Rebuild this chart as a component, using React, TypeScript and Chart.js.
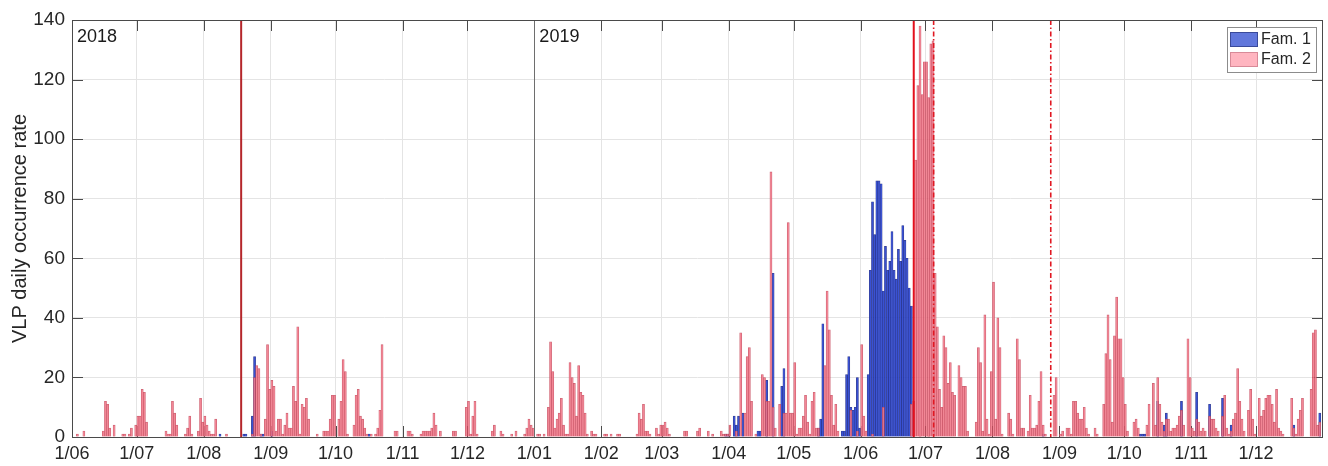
import { useEffect, useRef } from 'react';
import { Chart, registerables } from 'chart.js';

Chart.register(...registerables);

// ---- Daily VLP counts, one array per calendar month (index 0 = 1st of the month) ----

// Family 2
const fam2Jun2018 = [0, 0, 1, 0, 0, 2, 0, 0, 0, 0, 0, 0, 0, 0, 2, 12, 11, 3, 0, 4, 0, 0, 0, 1, 1, 0, 1, 3, 0, 4];
const fam2Jul2018 = [7, 7, 16, 15, 5, 0, 0, 0, 0, 0, 0, 0, 0, 2, 1, 1, 12, 8, 4, 0, 0, 0, 1, 3, 7, 1, 0, 0, 2, 13, 5];
const fam2Aug2018 = [7, 4, 2, 1, 1, 6, 0, 0, 0, 0, 1, 0, 0, 0, 0, 0, 0, 0, 0, 0, 0, 0, 1, 20, 24, 23, 1, 0, 6, 31, 16];
const fam2Sep2018 = [19, 17, 2, 6, 6, 1, 4, 8, 3, 3, 17, 12, 37, 1, 11, 10, 13, 6, 0, 0, 0, 1, 0, 0, 2, 2, 2, 6, 14, 14];
const fam2Oct2018 = [0, 6, 12, 26, 22, 1, 0, 0, 4, 14, 16, 7, 6, 3, 1, 0, 1, 0, 1, 3, 9, 31, 0, 0, 0, 0, 0, 2, 2, 0, 0];
const fam2Nov2018 = [0, 0, 2, 2, 1, 0, 0, 0, 1, 2, 2, 2, 2, 3, 8, 4, 0, 2, 0, 0, 0, 0, 0, 2, 2, 0, 0, 0, 0, 10];
const fam2Dec2018 = [12, 1, 7, 12, 1, 0, 0, 0, 0, 0, 0, 2, 4, 0, 0, 2, 1, 0, 0, 0, 1, 0, 2, 0, 0, 0, 1, 3, 6, 4, 3];
const fam2Jan2019 = [0, 1, 1, 0, 1, 0, 10, 32, 22, 3, 6, 8, 13, 4, 1, 1, 25, 20, 18, 7, 24, 15, 14, 8, 1, 0, 2, 1, 1, 0, 0];
const fam2Feb2019 = [0, 1, 1, 0, 1, 0, 0, 1, 1, 0, 0, 0, 0, 0, 0, 0, 1, 8, 6, 11, 2, 2, 1, 0, 0, 3, 1, 4];
const fam2Mar2019 = [4, 5, 3, 1, 0, 0, 0, 0, 0, 0, 2, 2, 0, 0, 0, 0, 2, 3, 0, 0, 0, 2, 0, 1, 0, 0, 0, 2, 1, 1, 1];
const fam2Apr2019 = [4, 0, 0, 2, 0, 35, 0, 8, 27, 30, 12, 0, 1, 0, 0, 21, 20, 12, 12, 89, 10, 3, 0, 11, 0, 8, 8, 72, 8, 8];
const fam2May2019 = [25, 1, 3, 3, 7, 14, 5, 1, 12, 15, 3, 3, 0, 0, 24, 49, 36, 14, 4, 11, 2, 0, 0, 0, 0, 0, 9, 0, 0, 2, 0];
const fam2Jun2019 = [31, 7, 2, 0, 0, 1, 0, 0, 0, 0, 10, 0, 0, 0, 0, 0, 0, 0, 0, 0, 0, 0, 0, 11, 12, 93, 118, 138, 115, 126];
const fam2Jul2019 = [126, 114, 132, 133, 55, 37, 16, 10, 34, 30, 18, 25, 15, 14, 0, 24, 20, 17, 17, 2, 0, 0, 0, 5, 30, 25, 2, 41, 6, 1, 22];
const fam2Aug2019 = [52, 6, 40, 30, 1, 0, 0, 8, 6, 1, 0, 33, 26, 3, 3, 0, 2, 14, 3, 3, 4, 12, 22, 4, 1, 0, 0, 0, 14, 20, 0];
const fam2Sep2019 = [1, 2, 0, 3, 3, 1, 12, 12, 8, 6, 6, 10, 3, 1, 0, 0, 3, 1, 0, 0, 11, 28, 41, 26, 5, 34, 47, 33, 33, 20];
const fam2Oct2019 = [11, 2, 0, 0, 5, 6, 3, 0, 0, 0, 4, 11, 0, 18, 4, 20, 11, 5, 2, 6, 6, 2, 3, 3, 4, 7, 9, 4, 0, 33, 20];
const fam2Nov2019 = [3, 2, 6, 5, 2, 3, 2, 0, 7, 6, 6, 3, 2, 0, 7, 14, 3, 1, 2, 6, 8, 23, 12, 6, 2, 0, 9, 16, 6, 1];
const fam2Dec2019 = [0, 13, 7, 9, 13, 14, 14, 11, 5, 16, 3, 2, 1, 0, 0, 0, 13, 3, 1, 6, 9, 13, 0, 0, 0, 16, 35, 36, 4, 5, 0];

// Family 1
const fam1Jun2018 = [0, 0, 0, 0, 0, 0, 0, 0, 0, 0, 0, 0, 0, 0, 0, 0, 0, 0, 0, 0, 0, 0, 0, 0, 0, 0, 0, 0, 0, 0];
const fam1Jul2018 = [0, 0, 0, 0, 0, 0, 0, 0, 0, 0, 0, 0, 0, 0, 0, 0, 0, 0, 0, 0, 0, 0, 0, 0, 0, 0, 0, 0, 0, 0, 0];
const fam1Aug2018 = [0, 0, 0, 0, 0, 0, 0, 1, 0, 0, 0, 0, 0, 0, 0, 0, 0, 0, 1, 1, 0, 0, 7, 27, 0, 0, 1, 1, 0, 0, 0];
const fam1Sep2018 = [2, 0, 0, 0, 0, 0, 0, 0, 0, 0, 0, 0, 0, 0, 0, 0, 0, 0, 0, 0, 0, 0, 0, 0, 0, 0, 0, 0, 0, 0];
const fam1Oct2018 = [0, 0, 0, 0, 0, 0, 0, 0, 0, 0, 0, 0, 0, 0, 0, 1, 0, 0, 0, 0, 0, 0, 0, 0, 0, 0, 0, 0, 0, 0, 0];
const fam1Nov2018 = [0, 0, 0, 0, 0, 0, 0, 0, 0, 0, 0, 0, 0, 0, 0, 0, 0, 0, 0, 0, 0, 0, 0, 0, 0, 0, 0, 0, 0, 0];
const fam1Dec2018 = [0, 0, 0, 0, 0, 0, 0, 0, 0, 0, 0, 0, 0, 0, 0, 0, 0, 0, 0, 0, 0, 0, 0, 0, 0, 0, 0, 0, 0, 0, 0];
const fam1Jan2019 = [0, 0, 0, 0, 0, 0, 0, 0, 0, 0, 0, 0, 0, 0, 0, 0, 0, 0, 0, 0, 0, 0, 0, 0, 0, 0, 0, 0, 0, 0, 0];
const fam1Feb2019 = [0, 0, 0, 0, 0, 0, 0, 0, 0, 0, 0, 0, 0, 0, 0, 0, 0, 0, 0, 0, 0, 0, 0, 0, 0, 0, 0, 0];
const fam1Mar2019 = [0, 0, 0, 0, 0, 0, 0, 0, 0, 0, 0, 0, 0, 0, 0, 0, 0, 0, 0, 0, 0, 0, 0, 0, 0, 0, 0, 0, 0, 1, 1];
const fam1Apr2019 = [0, 0, 7, 4, 7, 0, 8, 0, 0, 0, 0, 0, 0, 2, 2, 0, 0, 19, 0, 0, 55, 0, 0, 0, 17, 23, 0, 0, 0, 0];
const fam1May2019 = [0, 0, 0, 0, 0, 0, 0, 0, 0, 0, 0, 3, 6, 38, 0, 0, 0, 0, 0, 0, 0, 0, 2, 2, 21, 27, 10, 9, 10, 20, 3];
const fam1Jun2019 = [0, 0, 0, 21, 56, 79, 68, 86, 86, 85, 49, 64, 56, 59, 69, 56, 53, 63, 59, 71, 66, 60, 50, 44, 0, 0, 0, 0, 0, 0];
const fam1Jul2019 = [0, 0, 0, 0, 0, 0, 0, 0, 0, 0, 0, 0, 0, 0, 0, 0, 0, 0, 0, 0, 0, 0, 0, 0, 0, 0, 0, 0, 0, 0, 0];
const fam1Aug2019 = [0, 0, 0, 0, 0, 0, 0, 0, 0, 0, 0, 0, 0, 0, 0, 0, 0, 0, 0, 0, 0, 0, 0, 1, 0, 0, 0, 0, 0, 0, 0];
const fam1Sep2019 = [0, 0, 0, 0, 0, 0, 0, 0, 0, 0, 0, 0, 0, 0, 0, 0, 0, 0, 0, 0, 0, 0, 0, 0, 0, 0, 0, 0, 0, 0];
const fam1Oct2019 = [0, 0, 0, 0, 0, 0, 0, 1, 1, 1, 0, 0, 0, 0, 0, 12, 0, 0, 4, 8, 0, 0, 0, 0, 0, 0, 12, 0, 0, 0, 0];
const fam1Nov2019 = [0, 0, 15, 0, 0, 0, 0, 0, 11, 0, 0, 0, 0, 0, 13, 0, 0, 0, 4, 0, 0, 0, 0, 0, 0, 0, 0, 0, 0, 0];
const fam1Dec2019 = [0, 0, 0, 0, 0, 0, 0, 0, 0, 0, 0, 0, 0, 0, 0, 0, 0, 4, 0, 0, 0, 0, 0, 0, 0, 0, 0, 0, 0, 8, 0];

// ---- Axis ticks, year markers and eruptive-event lines ----
const monthTickDates = [
  '2018-06-01', '2018-07-01', '2018-08-01', '2018-09-01', '2018-10-01', '2018-11-01', '2018-12-01',
  '2019-01-01', '2019-02-01', '2019-03-01', '2019-04-01', '2019-05-01', '2019-06-01', '2019-07-01',
  '2019-08-01', '2019-09-01', '2019-10-01', '2019-11-01', '2019-12-01',
];
const monthTickLabels = [
  '1/06', '1/07', '1/08', '1/09', '1/10', '1/11', '1/12',
  '1/01', '1/02', '1/03', '1/04', '1/05', '1/06', '1/07',
  '1/08', '1/09', '1/10', '1/11', '1/12',
];
const yTicks = [0, 20, 40, 60, 80, 100, 120, 140];
const yearLabels = ['2018', '2019'];
const yearStartDates = ['2018-06-01', '2019-01-01'];
const eventTimes = ['2018-08-18T07:00:00Z', '2019-06-25T14:00:00Z', '2019-07-04T19:00:00Z', '2019-08-28T00:00:00Z'];
const eventStyles = ['solid', 'solid', 'dashdot', 'dashdot'];

const rangeStart = '2018-06-01';
const rangeEnd = '2020-01-01';

const DAY_MS = 86400000;
const originMs = Date.parse(rangeStart);
const toDay = (iso: string) => (Date.parse(iso) - originMs) / DAY_MS;

const fam1Daily = [
  fam1Jun2018, fam1Jul2018, fam1Aug2018, fam1Sep2018, fam1Oct2018, fam1Nov2018, fam1Dec2018,
  fam1Jan2019, fam1Feb2019, fam1Mar2019, fam1Apr2019, fam1May2019, fam1Jun2019, fam1Jul2019,
  fam1Aug2019, fam1Sep2019, fam1Oct2019, fam1Nov2019, fam1Dec2019,
].flat();
const fam2Daily = [
  fam2Jun2018, fam2Jul2018, fam2Aug2018, fam2Sep2018, fam2Oct2018, fam2Nov2018, fam2Dec2018,
  fam2Jan2019, fam2Feb2019, fam2Mar2019, fam2Apr2019, fam2May2019, fam2Jun2019, fam2Jul2019,
  fam2Aug2019, fam2Sep2019, fam2Oct2019, fam2Nov2019, fam2Dec2019,
].flat();

// each bar covers its whole day
const toPoints = (vals: number[]) =>
  vals.map((v, i) => ({ x: i + 0.5, y: v })).filter((p) => p.y > 0);

const FONT = '"Liberation Sans", Arial, Helvetica, sans-serif';
const INK = '#262626';
const FAM1_FILL = 'rgba(50, 76, 215, 0.9)';
const FAM1_EDGE = 'rgba(22, 32, 120, 0.85)';
const FAM2_FILL = 'rgba(247, 128, 145, 0.78)';
const FAM2_EDGE = 'rgba(190, 60, 80, 0.8)';

const frameAndMarks = {
  id: 'frameAndMarks',
  beforeDatasetsDraw(chart: any) {
    const { ctx, chartArea: a, scales } = chart;
    const x = scales.x;
    const y = scales.y;
    const tl = 11;
    ctx.save();
    ctx.strokeStyle = '#4a4a4a';
    ctx.lineWidth = 1;
    ctx.beginPath();
    monthTickDates.forEach((d) => {
      const px = Math.round(x.getPixelForValue(toDay(d))) + 0.5;
      ctx.moveTo(px, a.top);
      ctx.lineTo(px, a.top + tl);
      ctx.moveTo(px, a.bottom);
      ctx.lineTo(px, a.bottom - tl);
    });
    yTicks.forEach((v) => {
      const py = Math.round(y.getPixelForValue(v)) + 0.5;
      ctx.moveTo(a.left, py);
      ctx.lineTo(a.left + tl, py);
      ctx.moveTo(a.right, py);
      ctx.lineTo(a.right - tl, py);
    });
    ctx.stroke();
    ctx.restore();
  },
  afterDatasetsDraw(chart: any) {
    const { ctx, chartArea: a, scales } = chart;
    const x = scales.x;
    ctx.save();

    // new-year divider
    const px2019 = Math.round(x.getPixelForValue(toDay(yearStartDates[1]))) + 0.5;
    ctx.strokeStyle = '#6e6e6e';
    ctx.lineWidth = 1;
    ctx.beginPath();
    ctx.moveTo(px2019, a.top);
    ctx.lineTo(px2019, a.bottom);
    ctx.stroke();

    // event lines
    eventTimes.forEach((t, i) => {
      const px = x.getPixelForValue((Date.parse(t) - originMs) / DAY_MS);
      ctx.beginPath();
      if (eventStyles[i] === 'solid') {
        ctx.setLineDash([]);
        ctx.lineWidth = 2;
        ctx.strokeStyle = i === 0 ? '#b5262b' : '#e3101d';
      } else {
        ctx.setLineDash([5, 2.5, 1.5, 2.5]);
        ctx.lineWidth = 1.6;
        ctx.strokeStyle = '#e01822';
      }
      ctx.moveTo(px, a.top);
      ctx.lineTo(px, a.bottom);
      ctx.stroke();
    });
    ctx.setLineDash([]);

    // axes box
    ctx.strokeStyle = '#4a4a4a';
    ctx.lineWidth = 1;
    ctx.strokeRect(a.left + 0.5, a.top + 0.5, a.right - a.left - 1, a.bottom - a.top);

    // year labels
    ctx.fillStyle = '#1a1a1a';
    ctx.font = `18px ${FONT}`;
    ctx.textBaseline = 'alphabetic';
    ctx.textAlign = 'left';
    yearLabels.forEach((lab, i) => {
      const px = i === 0 ? a.left : x.getPixelForValue(toDay(yearStartDates[i]));
      ctx.fillText(lab, px + 5, a.top + 22);
    });

    // legend
    const bw = 89;
    const bh = 45;
    const bx = a.right - 7 - bw;
    const by = a.top + 7;
    ctx.fillStyle = '#ffffff';
    ctx.fillRect(bx, by, bw, bh);
    ctx.strokeStyle = '#8c8c8c';
    ctx.strokeRect(bx + 0.5, by + 0.5, bw, bh);
    const entries = [
      { label: 'Fam. 1', fill: 'rgba(75, 100, 214, 0.88)', edge: '#3a4a9a' },
      { label: 'Fam. 2', fill: 'rgba(255, 150, 165, 0.7)', edge: '#d88a98' },
    ];
    ctx.font = `16px ${FONT}`;
    ctx.textBaseline = 'middle';
    entries.forEach((e, i) => {
      const sy = by + 5 + i * 20;
      ctx.fillStyle = e.fill;
      ctx.fillRect(bx + 3, sy, 28, 15);
      ctx.strokeStyle = e.edge;
      ctx.strokeRect(bx + 3.5, sy + 0.5, 27, 14);
      ctx.fillStyle = INK;
      ctx.fillText(e.label, bx + 34, sy + 8);
    });

    ctx.restore();
  },
};

export default function App() {
  const canvasRef = useRef<HTMLCanvasElement | null>(null);

  useEffect(() => {
    const canvas = canvasRef.current;
    if (!canvas) return;
    const chart = new Chart(canvas, {
      type: 'bar',
      data: {
        datasets: [
          {
            label: 'Fam. 1',
            data: toPoints(fam1Daily) as any,
            backgroundColor: FAM1_FILL,
            borderColor: FAM1_EDGE,
            borderWidth: 0.6,
            inflateAmount: 0.3,
            grouped: false,
            barPercentage: 1,
            categoryPercentage: 1,
            order: 2,
          },
          {
            label: 'Fam. 2',
            data: toPoints(fam2Daily) as any,
            backgroundColor: FAM2_FILL,
            borderColor: FAM2_EDGE,
            borderWidth: 0.6,
            inflateAmount: 0.3,
            grouped: false,
            barPercentage: 1,
            categoryPercentage: 1,
            order: 1,
          },
        ] as any,
      },
      options: {
        responsive: false,
        animation: false,
        devicePixelRatio: 1,
        layout: { padding: { top: 20, right: 5, bottom: 0, left: 0 } },
        plugins: {
          legend: { display: false },
          tooltip: { enabled: false },
        },
        scales: {
          x: {
            type: 'linear',
            min: 0,
            max: toDay(rangeEnd),
            offset: false,
            afterBuildTicks: (scale: any) => {
              scale.ticks = monthTickDates.map((d) => ({ value: toDay(d) }));
            },
            afterFit: (scale: any) => {
              scale.height = 29;
            },
            grid: { offset: false, color: '#e4e4e4', lineWidth: 1, drawTicks: false },
            border: { display: false },
            ticks: {
              autoSkip: false,
              maxRotation: 0,
              padding: 6,
              color: INK,
              font: { family: FONT, size: 18 },
              callback: (_v: any, i: number) => monthTickLabels[i],
            },
          },
          y: {
            type: 'linear',
            min: 0,
            max: 140,
            afterBuildTicks: (scale: any) => {
              scale.ticks = yTicks.map((v) => ({ value: v }));
            },
            afterFit: (scale: any) => {
              scale.width = 72;
            },
            grid: { color: '#e4e4e4', lineWidth: 1, drawTicks: false },
            border: { display: false },
            ticks: {
              padding: 7,
              color: INK,
              font: { family: FONT, size: 19 },
            },
            title: {
              display: true,
              text: 'VLP daily occurrence rate',
              color: INK,
              font: { family: FONT, size: 20 },
              padding: { top: 8, bottom: 0 },
            },
          },
        },
      },
      plugins: [frameAndMarks],
    });
    return () => chart.destroy();
  }, []);

  return (
    <div style={{ position: 'fixed', left: 0, top: 0, width: 1328, height: 466, background: '#ffffff' }}>
      <canvas ref={canvasRef} width={1328} height={466} />
    </div>
  );
}
